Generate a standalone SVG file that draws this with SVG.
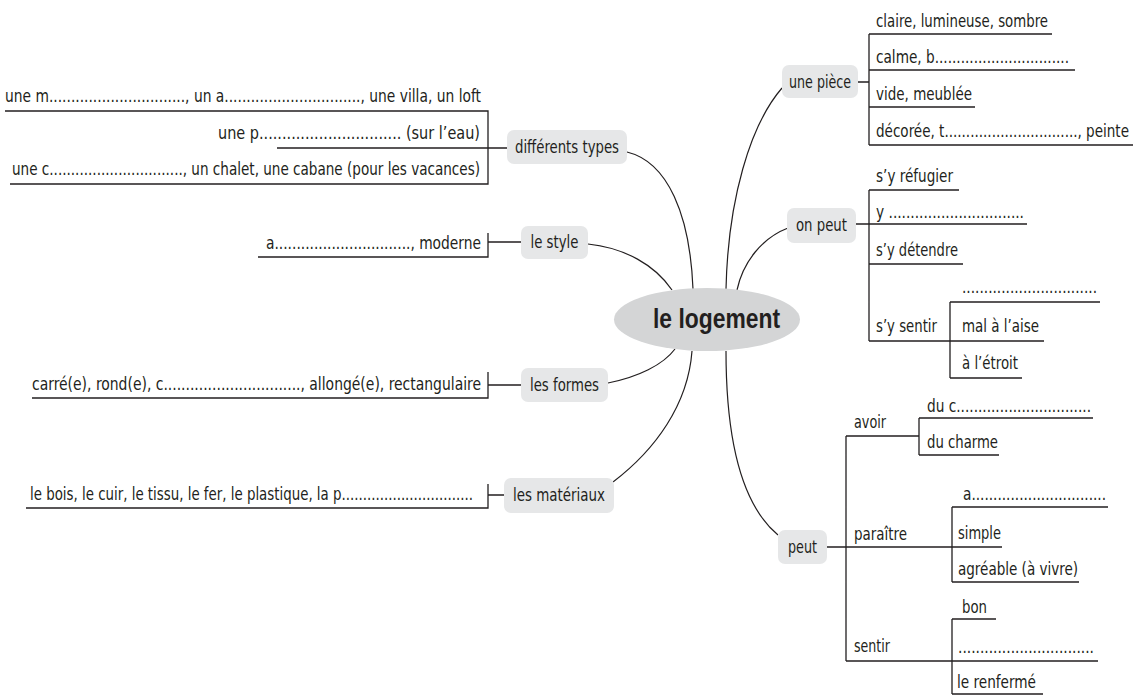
<svg xmlns="http://www.w3.org/2000/svg" width="1143" height="695" viewBox="0 0 1143 695">
<style>
.t{font-family:"Liberation Sans Narrow","DejaVu Sans Condensed","Liberation Sans",sans-serif;font-size:17px;fill:#231f20}
.c{text-anchor:middle;font-size:18px}
.box{fill:#e6e7e8}
.ln{stroke:#231f20;stroke-width:1.3;fill:none}
.cn{stroke:#231f20;stroke-width:1.2;fill:none}
</style>
<rect width="1143" height="695" fill="#ffffff"/>
<g id="connectors">
<path class="cn" d="M627,152 C668,162 690,215 693,289"/>
<path class="cn" d="M588,244 C625,248 655,265 672,290"/>
<path class="cn" d="M608,383 C638,377 663,365 675,349"/>
<path class="cn" d="M613,482 C655,450 688,405 692,351"/>
<path class="cn" d="M782,88 C750,125 728,200 726,289"/>
<path class="cn" d="M788,228 C762,238 743,262 737,290"/>
<path class="cn" d="M726,351 C726,440 742,505 778,535"/>
</g>
<g id="center">
<ellipse cx="707" cy="319.5" rx="93" ry="31.5" fill="#d4d5d6"/>
<text x="653" y="328" textLength="127" lengthAdjust="spacingAndGlyphs" style="font-family:'Liberation Sans','DejaVu Sans',sans-serif;font-size:28px;font-weight:bold;fill:#231f20">le logement</text>
</g>
<g id="types">
<rect class="box" x="507" y="130" width="120" height="34" rx="7"/>
<text class="t c" x="567" y="153" textLength="104" lengthAdjust="spacingAndGlyphs">différents types</text>
<path class="ln" d="M5,111 H488 V184 H10 M277,148 H507"/>
<text class="t" x="5" y="102" textLength="476" lengthAdjust="spacingAndGlyphs">une m..............................., un a..............................., une villa, un loft</text>
<text class="t" x="218" y="139" textLength="262" lengthAdjust="spacingAndGlyphs">une p............................... (sur l’eau)</text>
<text class="t" x="12" y="175" textLength="468" lengthAdjust="spacingAndGlyphs">une c..............................., un chalet, une cabane (pour les vacances)</text>
</g>
<g id="style">
<rect class="box" x="521" y="226" width="67" height="33" rx="7"/>
<text class="t c" x="554.5" y="248" textLength="48" lengthAdjust="spacingAndGlyphs">le style</text>
<path class="ln" d="M258,257 H488 V233 M488,242 H521"/>
<text class="t" x="266" y="249" textLength="215" lengthAdjust="spacingAndGlyphs">a..............................., moderne</text>
</g>
<g id="formes">
<rect class="box" x="521" y="368" width="87" height="34" rx="7"/>
<text class="t c" x="564.5" y="391" textLength="69" lengthAdjust="spacingAndGlyphs">les formes</text>
<path class="ln" d="M32,398 H488 V372 M488,385 H521"/>
<text class="t" x="32" y="390" textLength="449" lengthAdjust="spacingAndGlyphs">carré(e), rond(e), c..............................., allongé(e), rectangulaire</text>
</g>
<g id="materiaux">
<rect class="box" x="504" y="478" width="110" height="35" rx="7"/>
<text class="t c" x="559" y="501" textLength="92" lengthAdjust="spacingAndGlyphs">les matériaux</text>
<path class="ln" d="M26,508 H488 V484 M488,495 H504"/>
<text class="t" x="30" y="500" textLength="443" lengthAdjust="spacingAndGlyphs">le bois, le cuir, le tissu, le fer, le plastique, la p...............................</text>
</g>
<g id="piece">
<rect class="box" x="782" y="65" width="76" height="33" rx="7"/>
<text class="t c" x="820" y="88" textLength="62" lengthAdjust="spacingAndGlyphs">une pièce</text>
<path class="ln" d="M858,82 H869 M869,34 V145 M869,34 H1052 M869,70 H1075 M869,107 H975 M869,145 H1133"/>
<text class="t" x="876" y="27" textLength="172" lengthAdjust="spacingAndGlyphs">claire, lumineuse, sombre</text>
<text class="t" x="876" y="63" textLength="193" lengthAdjust="spacingAndGlyphs">calme, b...............................</text>
<text class="t" x="876" y="100" textLength="96" lengthAdjust="spacingAndGlyphs">vide, meublée</text>
<text class="t" x="876" y="137" textLength="253" lengthAdjust="spacingAndGlyphs">décorée, t..............................., peinte</text>
</g>
<g id="onpeut">
<rect class="box" x="787" y="208" width="69" height="35" rx="7"/>
<text class="t c" x="821.5" y="231" textLength="51" lengthAdjust="spacingAndGlyphs">on peut</text>
<path class="ln" d="M869,190 V341 M869,190 H959 M856,224 H1027 M869,264 H963 M869,341 H1044 M950,302 V378 M950,302 H1100 M950,378 H1022"/>
<text class="t" x="876" y="182" textLength="77" lengthAdjust="spacingAndGlyphs">s’y réfugier</text>
<text class="t" x="876" y="218" textLength="148" lengthAdjust="spacingAndGlyphs">y ...............................</text>
<text class="t" x="876" y="256" textLength="82" lengthAdjust="spacingAndGlyphs">s’y détendre</text>
<text class="t" x="876" y="332" textLength="61" lengthAdjust="spacingAndGlyphs">s’y sentir</text>
<text class="t" x="962" y="293" textLength="135" lengthAdjust="spacingAndGlyphs">...............................</text>
<text class="t" x="962" y="332" textLength="77" lengthAdjust="spacingAndGlyphs">mal à l’aise</text>
<text class="t" x="962" y="369" textLength="56" lengthAdjust="spacingAndGlyphs">à l’étroit</text>
</g>
<g id="peut">
<rect class="box" x="778" y="530" width="49" height="34" rx="7"/>
<text class="t c" x="802.5" y="553" textLength="29" lengthAdjust="spacingAndGlyphs">peut</text>
<path class="ln" d="M846,436 V661 M846,436 H919 M827,547 H1002 M846,661 H1098 M919,418 V455 M919,418 H1093 M919,455 H999 M952,507 V582 M952,507 H1108 M952,582 H1079 M952,619 V694 M952,619 H996 M952,694 H1043"/>
<text class="t" x="854" y="428" textLength="32" lengthAdjust="spacingAndGlyphs">avoir</text>
<text class="t" x="927" y="412" textLength="164" lengthAdjust="spacingAndGlyphs">du c...............................</text>
<text class="t" x="927" y="448" textLength="71" lengthAdjust="spacingAndGlyphs">du charme</text>
<text class="t" x="854" y="540" textLength="53" lengthAdjust="spacingAndGlyphs">paraître</text>
<text class="t" x="963" y="500" textLength="143" lengthAdjust="spacingAndGlyphs">a...............................</text>
<text class="t" x="958" y="539" textLength="43" lengthAdjust="spacingAndGlyphs">simple</text>
<text class="t" x="958" y="575" textLength="120" lengthAdjust="spacingAndGlyphs">agréable (à vivre)</text>
<text class="t" x="854" y="652" textLength="36" lengthAdjust="spacingAndGlyphs">sentir</text>
<text class="t" x="962" y="613" textLength="25" lengthAdjust="spacingAndGlyphs">bon</text>
<text class="t" x="958" y="653" textLength="136" lengthAdjust="spacingAndGlyphs">...............................</text>
<text class="t" x="957" y="688" textLength="79" lengthAdjust="spacingAndGlyphs">le renfermé</text>
</g>
</svg>
